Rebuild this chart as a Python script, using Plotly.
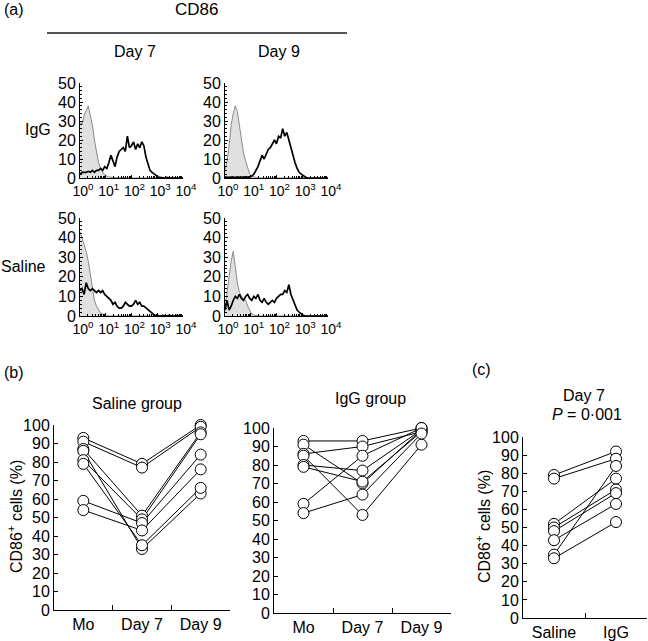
import numpy as np
import plotly.graph_objects as go

W, H = 648, 641
FONT = "Liberation Sans, Arial, Helvetica, sans-serif"

# ---------------- DATA ----------------
# histogram channel grid (decade exponent of fluorescence, 10^0 .. 10^4)
bin_exp = [0.00, 0.08, 0.16, 0.24, 0.32, 0.40, 0.48, 0.56, 0.64, 0.72,
           0.80, 0.88, 0.96, 1.04, 1.12, 1.20, 1.28, 1.36, 1.44, 1.52,
           1.60, 1.68, 1.76, 1.84, 1.92, 2.00, 2.08, 2.16, 2.24, 2.32,
           2.40, 2.48, 2.56, 2.64, 2.72, 2.80, 2.88, 2.96, 3.04, 3.12,
           3.20, 3.28, 3.36, 3.44, 3.52, 3.60, 3.68, 3.76, 3.84, 3.92, 4.00]

# IgG, Day 7
igg_d7_iso = [30, 28, 33, 36, 38, 33, 28, 20, 14, 8, 5, 3, 1.5, 1, 0.5, 0.5, 0.3, 0.3, 0, 0,
              0.3, 0, 0, 0, 0, 0, 0, 0, 0, 0, 0, 0, 0, 0, 0, 0, 0, 0, 0, 0,
              0, 0, 0, 0, 0, 0, 0, 0, 0, 0, 0]
igg_d7_cd86 = [2, 3, 3, 3, 3.5, 3, 4, 3, 4, 4, 5, 4, 6, 5, 8, 12, 9, 6, 11, 14,
               15, 16, 14, 22, 16, 17, 19, 15, 18, 16, 19, 17, 11, 8, 4, 3, 2, 1, 0.5, 0.3,
               0, 0, 0.3, 0, 0, 0, 0, 0, 0, 0, 0]
# IgG, Day 9
igg_d9_iso = [4, 9, 17, 28, 34, 38, 35, 28, 20, 13, 9, 5, 2, 1, 0.5, 0.3, 0, 0, 0, 0,
              0, 0, 0, 0, 0, 0, 0, 0, 0, 0, 0, 0, 0, 0, 0, 0, 0, 0, 0, 0,
              0, 0, 0, 0, 0, 0, 0, 0, 0, 0, 0]
igg_d9_cd86 = [0.5, 0.3, 0.3, 0.5, 0.3, 0.3, 0.5, 0.3, 0.3, 0.5, 0.3, 0.5, 0.5, 1, 2, 4, 6, 9, 12, 10,
               13, 15, 16, 18, 20, 18, 22, 21, 26, 22, 24, 20, 16, 11, 8, 5, 3, 2, 1, 0.5,
               0, 0, 0.3, 0, 0, 0.3, 0, 0, 0, 0, 0]
# Saline, Day 7
sal_d7_iso = [43, 40, 37, 33, 28, 22, 14, 8, 5, 3, 1.5, 1, 0.5, 0.3, 0, 0, 0, 0, 0, 0,
              0, 0, 0, 0, 0, 0, 0, 0, 0, 0, 0, 0, 0, 0, 0, 0, 0, 0, 0, 0,
              0, 0, 0, 0, 0, 0, 0, 0, 0, 0, 0]
sal_d7_cd86 = [13, 14, 11, 17, 14, 13, 14, 13, 12, 13, 12, 13, 11, 10, 9, 8, 6, 7, 5, 4,
               4, 5, 7, 6, 5, 5, 6, 8, 6, 7, 5, 5, 4, 3, 2, 1, 0.5, 0.3, 0, 0,
               0.3, 0, 0, 0.3, 0, 0, 0, 0.3, 0, 0, 0]
# Saline, Day 9
sal_d9_iso = [4, 12, 20, 28, 33, 25, 17, 12, 10, 9, 8, 5, 3, 1, 0.5, 0.3, 0, 0, 0, 0,
              0, 0, 0, 0, 0, 0, 0, 0, 0, 0, 0, 0, 0, 0, 0, 0, 0, 0, 0, 0,
              0, 0, 0, 0, 0, 0, 0, 0, 0, 0, 0]
sal_d9_cd86 = [3, 8, 3, 5, 8, 10, 9, 11, 9, 8, 10, 11, 9, 8, 10, 9, 11, 8, 7, 9,
               7, 6, 7, 8, 7, 9, 10, 11, 11, 13, 12, 16, 11, 8, 5, 3, 2, 1, 0.3, 0,
               0, 0.3, 0, 0, 0.3, 0, 0, 0, 0.3, 0, 0]

decade_labels = ["10<sup>0</sup>", "10<sup>1</sup>", "10<sup>2</sup>", "10<sup>3</sup>", "10<sup>4</sup>"]

# Panel (b)
time_cats = ["Mo", "Day 7", "Day 9"]
saline_mo = [93, 91, 87, 86, 81, 79, 59, 54]
saline_d7 = [79, 77, 51, 33, 49, 35, 47, 43]
saline_d9 = [100, 99, 96, 63, 95, 66, 84, 76]

igg_mo = [93, 91, 86, 85, 80, 79, 59, 54]
igg_d7 = [93, 70, 90, 53, 77, 71, 85, 64]
igg_d9 = [100, 99, 98, 91, 99, 98, 100, 97]

# Panel (c) : Day 7
group_cats = ["Saline", "IgG"]
c_saline = [79, 77, 52, 50, 48, 43, 35, 33]
c_igg = [92, 88, 77, 71, 69, 63, 84, 53]

# ---------------- LAYOUT HELPERS ----------------
def xd(a, b):
    return [a / W, b / W]

def yd(top, bottom):
    return [1 - bottom / H, 1 - top / H]

fig = go.Figure()

minor_log = [d + np.log10(k) for d in range(4) for k in range(2, 10)]

hists = [
    ("x", "y", (80, 183), (83, 178), igg_d7_iso, igg_d7_cd86),
    ("x2", "y2", (225, 328), (83, 178), igg_d9_iso, igg_d9_cd86),
    ("x3", "y3", (80, 183), (218, 316), sal_d7_iso, sal_d7_cd86),
    ("x4", "y4", (225, 328), (218, 316), sal_d9_iso, sal_d9_cd86),
]

layout_axes = {}
for i, (xa, ya, xr, yr, iso, cd) in enumerate(hists):
    fig.add_trace(go.Scatter(x=bin_exp, y=iso, xaxis=xa, yaxis=ya, mode="lines",
                             line=dict(color="#8a8a8a", width=1),
                             fill="tozeroy", fillcolor="#e0e0e0", showlegend=False,
                             hoverinfo="skip"))
    fig.add_trace(go.Scatter(x=bin_exp, y=cd, xaxis=xa, yaxis=ya, mode="lines",
                             line=dict(color="black", width=1.7),
                             showlegend=False, hoverinfo="skip"))
    n = "" if i == 0 else str(i + 1)
    layout_axes["xaxis" + n] = dict(
        domain=xd(*xr), anchor=ya, range=[0, 4], tickvals=[0, 1, 2, 3, 4],
        ticktext=decade_labels, showline=True, linecolor="black", linewidth=1,
        ticks="inside", ticklen=3, tickcolor="black", showgrid=False, zeroline=False,
        automargin=False, ticklabelshift=3,
        tickfont=dict(size=14, color="black", family=FONT),
        minor=dict(tickvals=minor_log, ticks="inside", ticklen=2, tickcolor="black"))
    layout_axes["yaxis" + n] = dict(
        domain=yd(*yr), anchor=xa, range=[0, 50], dtick=10,
        showline=True, linecolor="black", linewidth=1, ticks="inside", ticklen=3,
        tickcolor="black", showgrid=False, zeroline=False, automargin=False,
        tickfont=dict(size=16, color="black", family=FONT),
        minor=dict(dtick=2, ticks="inside", ticklen=2, tickcolor="black"))

# scatter panels
panels = [
    ("x5", "y5", (54, 230), (425, 610), time_cats, [saline_mo, saline_d7, saline_d9]),
    ("x6", "y6", (274, 451), (428, 613), time_cats, [igg_mo, igg_d7, igg_d9]),
    ("x7", "y7", (523, 647), (437, 618), group_cats, [c_saline, c_igg]),
]
for j, (xa, ya, xr, yr, cats, cols) in enumerate(panels):
    nmice = len(cols[0])
    for m in range(nmice):
        fig.add_trace(go.Scatter(x=cats, y=[c[m] for c in cols], xaxis=xa, yaxis=ya,
                                 mode="lines", line=dict(color="black", width=1),
                                 showlegend=False, hoverinfo="skip", cliponaxis=False))
    xs, ys = [], []
    for m in range(nmice):
        for k, c in enumerate(cols):
            xs.append(cats[k])
            ys.append(c[m])
    fig.add_trace(go.Scatter(x=xs, y=ys, xaxis=xa, yaxis=ya, mode="markers",
                             marker=dict(size=11, color="white",
                                         line=dict(color="black", width=1)),
                             showlegend=False, hoverinfo="skip", cliponaxis=False))
    n = str(5 + j)
    layout_axes["xaxis" + n] = dict(
        domain=xd(*xr), anchor=ya, type="category", categoryorder="array",
        categoryarray=cats, range=[-0.5, len(cats) - 0.5], tickson="boundaries",
        showline=True, linecolor="black", linewidth=1, ticks="inside", ticklen=5,
        tickcolor="black", showgrid=False, zeroline=False, automargin=False,
        tickfont=dict(size=16, color="black", family=FONT))
    layout_axes["yaxis" + n] = dict(
        domain=yd(*yr), anchor=xa, range=[0, 100], dtick=10,
        showline=True, linecolor="black", linewidth=1, ticks="inside", ticklen=4,
        tickcolor="black", showgrid=False, zeroline=False, automargin=False,
        tickfont=dict(size=16, color="black", family=FONT))

def ann(text, px, py, size=16, angle=0, xanchor="center"):
    return dict(text=text, x=px / W, y=1 - py / H, xref="paper", yref="paper",
                showarrow=False, xanchor=xanchor, yanchor="middle", textangle=angle,
                font=dict(size=size, color="black", family=FONT))

annotations = [
    ann("(a)", 2, 10, xanchor="left"),
    ann("CD86", 196, 10, size=17),
    ann("Day 7", 135, 52),
    ann("Day 9", 279, 52),
    ann("IgG", 38, 130),
    ann("Saline", 23, 266),
    ann("(b)", 2, 372, xanchor="left"),
    ann("Saline group", 137, 403),
    ann("IgG group", 370, 398),
    ann("CD86<sup>+</sup> cells (%)", 15, 517, angle=-90),
    ann("(c)", 481, 370),
    ann("Day 7", 584, 395),
    ann("<i>P</i> = 0·001", 587, 414),
    ann("CD86<sup>+</sup> cells (%)", 483, 527, angle=-90),
]

fig.update_layout(
    template="none",
    width=W, height=H, autosize=False,
    margin=dict(l=0, r=0, t=0, b=0, pad=0, autoexpand=False),
    paper_bgcolor="white", plot_bgcolor="white",
    font=dict(family=FONT, color="black", size=16),
    annotations=annotations,
    hovermode=False,
    shapes=[dict(type="line", xref="paper", yref="paper",
                 x0=47 / W, x1=347 / W, y0=1 - 33 / H, y1=1 - 33 / H,
                 line=dict(color="#555555", width=2))],
    **layout_axes,
)

fig.write_html("out.html", config={"displayModeBar": False},
               post_script="document.body.style.margin='0';document.body.style.overflow='hidden';")
